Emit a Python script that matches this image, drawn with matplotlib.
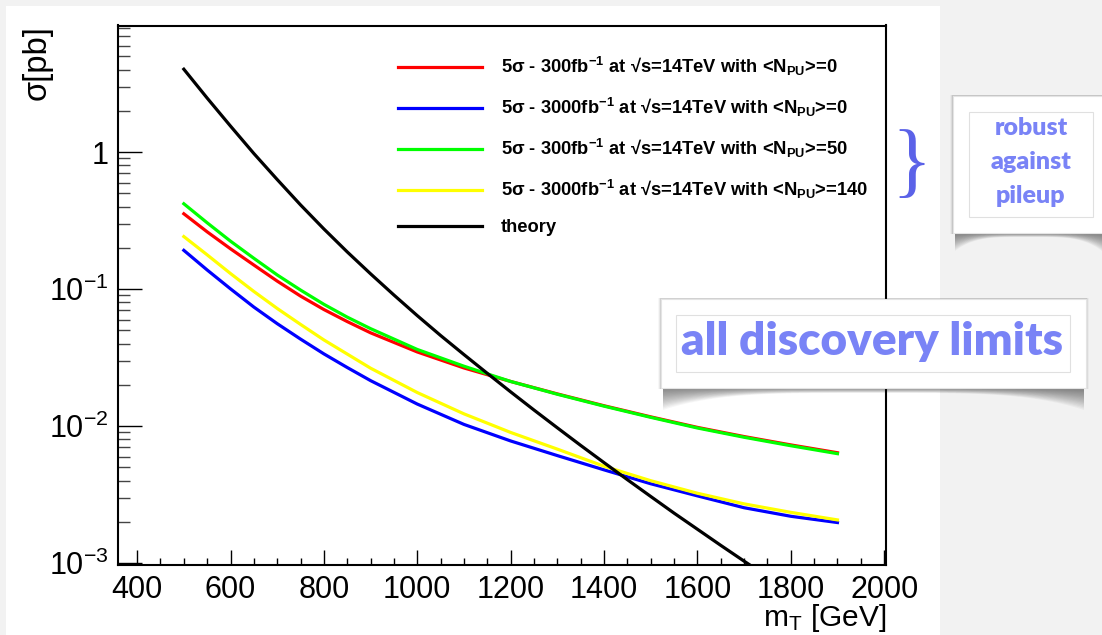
import numpy as np
import matplotlib
matplotlib.use('Agg')
import matplotlib.pyplot as plt
from matplotlib.patches import Rectangle, Polygon
from matplotlib.ticker import FixedLocator, FixedFormatter, LogLocator, MultipleLocator, NullFormatter

plt.rcParams['font.family'] = ['Liberation Sans', 'DejaVu Sans']
plt.rcParams['mathtext.fontset'] = 'custom'
plt.rcParams['mathtext.rm'] = 'Liberation Sans'
plt.rcParams['mathtext.bf'] = 'Liberation Sans:bold'
plt.rcParams['mathtext.it'] = 'Liberation Sans:italic'
plt.rcParams['axes.unicode_minus'] = False

# %% data
mT = [500, 550, 600, 650, 700, 750, 800, 850, 900, 1000, 1100, 1200, 1300, 1400, 1500, 1600,
      1700, 1800, 1900]
sig_300_pu0 = [0.355, 0.262, 0.197, 0.150, 0.1145, 0.089, 0.071, 0.0580, 0.0480, 0.0348,
               0.0266, 0.0212, 0.0172, 0.0141, 0.0117, 0.0098, 0.0084, 0.0073, 0.0064]
sig_3000_pu0 = [0.192, 0.138, 0.1005, 0.0740, 0.0560, 0.0432, 0.0337, 0.0268, 0.0215, 0.0145,
                0.0103, 0.0078, 0.0061, 0.0048, 0.0038, 0.0031, 0.00254, 0.00220, 0.00198]
sig_300_pu50 = [0.420, 0.305, 0.224, 0.168, 0.127, 0.0985, 0.0775, 0.0625, 0.0515, 0.0363,
                0.0274, 0.0212, 0.0171, 0.0140, 0.0116, 0.0097, 0.0083, 0.0072, 0.0063]
sig_3000_pu140 = [0.242, 0.178, 0.130, 0.0962, 0.0723, 0.0553, 0.0426, 0.0336, 0.0265, 0.0176,
                  0.0123, 0.0090, 0.0068, 0.0051, 0.0040, 0.00324, 0.00271, 0.00235, 0.00207]
mT_theory = [500, 550, 600, 650, 700, 750, 800, 850, 900, 950, 1000, 1050, 1100, 1150, 1200,
             1250, 1300, 1350, 1400, 1450, 1500, 1550, 1600, 1650, 1700, 1750]
sig_theory = [4.03, 2.48, 1.549, 0.977, 0.631, 0.412, 0.275, 0.187, 0.1294, 0.0906, 0.0641,
              0.0459, 0.0333, 0.0243, 0.0178, 0.01312, 0.00973, 0.00724, 0.00542, 0.00407,
              0.00307, 0.00232, 0.00177, 0.00135, 0.001035, 0.000798]

labels = [
    '5σ - 300fb$^{\\mathbf{-1}}$ at √s=14TeV with <N$_{\\mathbf{PU}}$>=0',
    '5σ - 3000fb$^{\\mathbf{-1}}$ at √s=14TeV with <N$_{\\mathbf{PU}}$>=0',
    '5σ - 300fb$^{\\mathbf{-1}}$ at √s=14TeV with <N$_{\\mathbf{PU}}$>=50',
    '5σ - 3000fb$^{\\mathbf{-1}}$ at √s=14TeV with <N$_{\\mathbf{PU}}$>=140',
    'theory',
]
ytick_vals = [1e-3, 1e-2, 1e-1, 1]
ytick_labels = ['10$^{-3}$', '10$^{-2}$', '10$^{-1}$', '1']

# %% figure, positions in pixels
W, H = 1102, 635


def fx(px):
    return px / W


def fy(py):
    return 1 - py / H


fig = plt.figure(figsize=(W / 100, H / 100), dpi=100, facecolor='#f2f2f2')
fig.patches.append(Rectangle((fx(6), 0), fx(940) - fx(6), fy(6), transform=fig.transFigure,
                             facecolor='white', edgecolor='none', zorder=-10))

ax = fig.add_axes([fx(118), fy(565), fx(886) - fx(118), fy(25.5) - fy(565)])
ax.set_yscale('log')
ax.set_xlim(359, 2004)
ax.set_ylim(0.00097, 8.4)

lw = 2.3
ax.plot(mT, sig_300_pu0, color='#ff0000', lw=lw, label=labels[0])
ax.plot(mT, sig_3000_pu0, color='#0000ff', lw=lw, label=labels[1])
ax.plot(mT, sig_300_pu50, color='#00ff00', lw=lw, label=labels[2])
ax.plot(mT, sig_3000_pu140, color='#ffff00', lw=lw, label=labels[3])
ax.plot(mT_theory, sig_theory, color='black', lw=lw, label=labels[4])

ax.legend(loc='upper left', bbox_to_anchor=(fx(398), fy(55)), bbox_transform=fig.transFigure,
          frameon=False, prop={'weight': 'bold', 'size': 13.2}, handlelength=4.6,
          handletextpad=1.0, labelspacing=0.98, borderpad=0, borderaxespad=0)

# ticks, ROOT style
ax.yaxis.set_major_locator(FixedLocator(ytick_vals))
ax.yaxis.set_major_formatter(FixedFormatter(ytick_labels))
ax.yaxis.set_minor_locator(LogLocator(base=10, subs=np.arange(2, 10), numticks=20))
ax.yaxis.set_minor_formatter(NullFormatter())
ax.xaxis.set_major_locator(MultipleLocator(200))
ax.xaxis.set_minor_locator(MultipleLocator(50))
ax.tick_params(axis='both', which='both', direction='in', top=False, right=False,
               labelsize=22, color='black')
ax.tick_params(axis='y', which='major', length=17.3, width=1.0, pad=7)
ax.tick_params(axis='y', which='minor', length=8.6, width=1.0, color='#444444')
ax.tick_params(axis='x', which='major', length=10.8, width=1.0, pad=7)
ax.tick_params(axis='x', which='minor', length=5.4, width=1.0)
for s in ax.spines.values():
    s.set_linewidth(1.5)

fig.text(fx(37), fy(25), 'σ[pb]', rotation=90, ha='center', va='top', fontsize=23.5)
fig.text(fx(886), fy(634), 'm$_{\\mathregular{T}}$ [GeV]', ha='right', va='bottom', fontsize=21.5)

# %% annotation boxes on top


def curved_shadow(x0, x1, ytop, d_corner, d_mid):
    t = np.linspace(0, 1, 80)
    xs = x0 + (x1 - x0) * t
    n = 16
    for k in range(n):
        s = 1 - k / n
        depth = s * (d_mid + (d_corner - d_mid) * (2 * t - 1) ** 4)
        top = [(fx(x), fy(ytop)) for x in xs]
        bot = [(fx(x), fy(ytop + d)) for x, d in zip(xs[::-1], depth[::-1])]
        fig.patches.append(Polygon(top + bot, closed=True, transform=fig.transFigure,
                                   facecolor='black', edgecolor='none', alpha=0.035, zorder=4))


def note_box(x0, y0, x1, y1, ix0, iy0, ix1, iy1):
    for k, a in enumerate([0.10, 0.06, 0.03]):
        fig.patches.append(Rectangle((fx(x0 - 1 - k), fy(y1 + 1)), fx(x1 + 2 + 2 * k) - fx(x0),
                                     fy(y0 - 1) - fy(y1 + 1), transform=fig.transFigure,
                                     facecolor='black', edgecolor='none', alpha=a, zorder=4))
    fig.patches.append(Rectangle((fx(x0), fy(y1)), fx(x1) - fx(x0), fy(y0) - fy(y1),
                                 transform=fig.transFigure, facecolor='white',
                                 edgecolor='#e4e4e4', lw=0.8, zorder=5))
    fig.patches.append(Rectangle((fx(ix0), fy(iy1)), fx(ix1) - fx(ix0), fy(iy0) - fy(iy1),
                                 transform=fig.transFigure, facecolor='none',
                                 edgecolor='#e0e0e0', lw=0.8, zorder=6))


note_col = '#7983f6'
curved_shadow(955, 1102, 233, 18, 4)
note_box(953, 96, 1110, 233, 969, 112, 1093, 217)
for txt, yy in zip(['robust', 'against', 'pileup'], [128, 162, 196]):
    fig.text(fx(1031), fy(yy), txt, ha='center', va='center', fontsize=18, weight='heavy',
             color=note_col, family='Lato', zorder=7)

curved_shadow(663, 1084, 388, 22, 5)
note_box(661, 299, 1086, 388, 676, 315, 1070, 372)
fig.text(fx(872), fy(341), 'all discovery limits', ha='center', va='center', fontsize=33,
         weight='heavy', color=note_col, family='Lato', zorder=7)

fig.text(fx(911), fy(167), '}', ha='center', va='center', fontsize=60, color='#5b62e8',
         family='Liberation Serif', zorder=7)

fig.savefig('out.png', dpi=100, facecolor=fig.get_facecolor())
